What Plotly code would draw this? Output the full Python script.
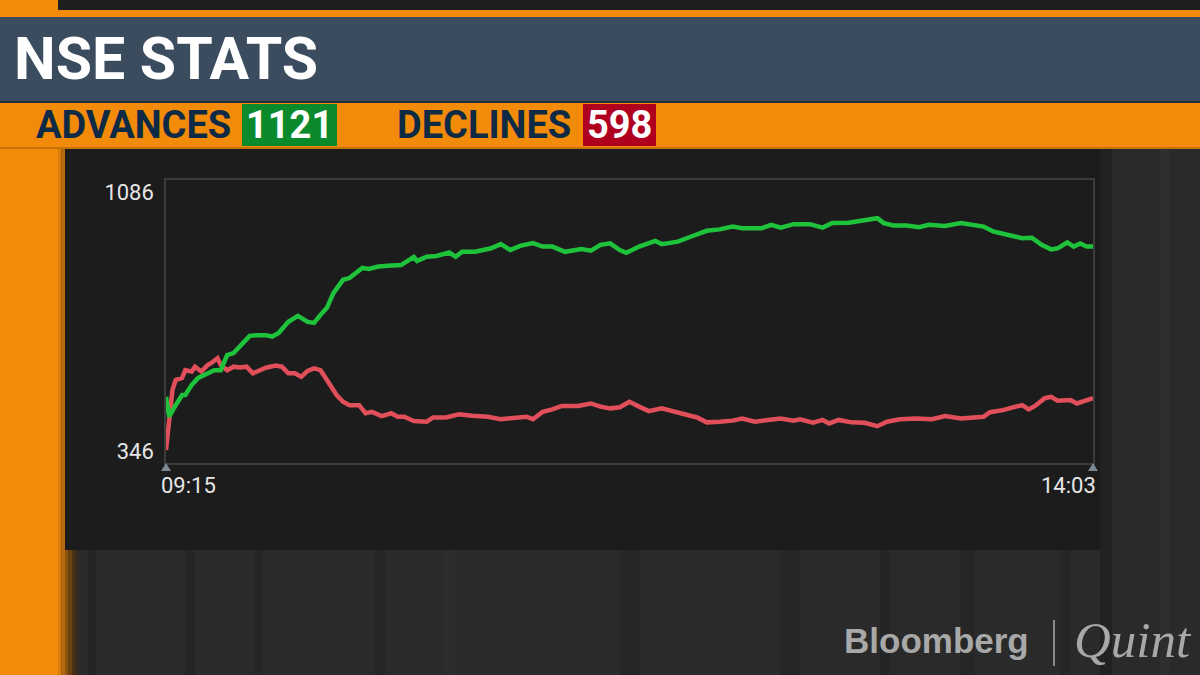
import plotly.graph_objects as go

# ---------------- data ----------------
title_text = "NSE STATS"
adv_label = "ADVANCES"
adv_count = "1121"
dec_label = "DECLINES"
dec_count = "598"

time_start = "09:15"
time_end = "14:03"
y_ticks = [346, 1086]

# minutes after 09:15
adv_t = [0, 1, 3, 5, 6, 8, 10, 13, 15, 17, 19, 21, 23, 26, 28, 31, 33, 35, 38, 41,
         44, 46, 48, 50, 52, 55, 57, 59, 61, 63, 66, 69, 73, 77, 78, 81, 84, 88, 90, 92,
         96, 101, 104, 107, 110, 114, 117, 120, 124, 129, 132, 135, 138, 141, 143, 147, 152, 154, 159, 163,
         168, 172, 176, 179, 185, 188, 191, 195, 200, 204, 207, 212, 217, 221, 223, 226, 230, 234, 237, 242,
         247, 251, 254, 257, 260, 263, 266, 269, 272, 275, 277, 280, 282, 284, 286, 288]
adv_v = [501, 444, 477, 506, 506, 535, 555, 569, 577, 577, 620, 626, 644, 675, 677, 677, 673, 683, 715, 732,
         715, 712, 735, 755, 797, 835, 840, 855, 869, 866, 873, 875, 877, 900, 889, 901, 903, 913, 901, 915,
         915, 925, 937, 920, 932, 940, 930, 930, 915, 923, 918, 935, 939, 920, 912, 930, 946, 937, 944, 958,
         975, 979, 987, 982, 982, 992, 984, 994, 994, 984, 997, 998, 1006, 1011, 997, 990, 990, 985, 992, 989,
         997, 992, 987, 973, 968, 960, 954, 955, 935, 922, 925, 942, 930, 939, 930, 930]

dec_t = [0, 1, 2, 3, 5, 6, 8, 9, 11, 13, 14, 16, 17, 19, 21, 23, 25, 27, 29, 31,
         34, 36, 38, 40, 42, 44, 46, 48, 50, 53, 55, 57, 60, 62, 64, 67, 70, 72, 74, 77,
         81, 83, 87, 91, 95, 100, 104, 108, 112, 114, 117, 120, 123, 128, 132, 135, 138, 141, 144, 147,
         150, 154, 158, 162, 165, 168, 172, 176, 179, 183, 187, 191, 195, 197, 201, 204, 206, 209, 213, 217,
         221, 224, 228, 233, 238, 242, 247, 251, 254, 256, 260, 264, 266, 268, 270, 273, 275, 277, 281, 283,
         286, 288]
dec_v = [349, 440, 520, 549, 555, 577, 573, 587, 573, 592, 597, 611, 592, 577, 587, 585, 587, 568, 577, 584,
         590, 587, 568, 568, 558, 575, 582, 577, 549, 506, 487, 477, 477, 454, 458, 446, 454, 444, 444, 432,
         430, 442, 442, 451, 447, 444, 437, 439, 444, 437, 458, 465, 475, 475, 482, 473, 468, 471, 487, 473,
         460, 468, 457, 449, 442, 428, 430, 433, 439, 430, 435, 439, 433, 437, 427, 435, 425, 435, 428, 427,
         417, 430, 437, 439, 437, 446, 439, 441, 444, 457, 463, 473, 477, 465, 475, 497, 501, 490, 492, 482,
         492, 497]

# ---------------- styling ----------------
W, H = 1200, 675
ORANGE = "#f28a0a"
SLATE = "#3a4c5e"
NAVY = "#0e2a45"
GREEN_BOX = "#0b8a2c"
RED_BOX = "#b0001f"
GREEN = "#1fc23b"
RED = "#e1505a"
TICK_FONT = dict(family="Roboto", size=22, color="#e6e6e6")


def px(x):
    return x / W


def py(y):
    return 1 - y / H


def rect(x0, y0, x1, y1, color, layer="below"):
    return dict(type="rect", xref="paper", yref="paper",
                x0=px(x0), x1=px(x1), y0=py(y1), y1=py(y0),
                fillcolor=color, line=dict(width=0), layer=layer)


shapes = []
# background stripes (blurred studio columns)
stripes = [(88, 96, "#242424"), (185, 195, "#252525"), (255, 262, "#262626"), (375, 385, "#262626"),
           (445, 455, "#2d2d2d"), (620, 640, "#262626"), (780, 800, "#262626"), (880, 890, "#252525"),
           (960, 975, "#262626"), (1060, 1070, "#262626"), (1100, 1112, "#222222"), (1160, 1170, "#2e2e2e")]
for a, b, c in stripes:
    shapes.append(rect(a, 0, b, H, c))
# left orange strip with soft edge
shapes.append(rect(0, 0, 58, H, ORANGE))
edge = ["#d97c0a", "#b86a0c", "#8f550f", "#6a4210", "#4a3314", "#352a1c"]
for i, c in enumerate(edge):
    shapes.append(rect(58 + i * 3.5, 0, 58 + (i + 1) * 3.5, H, c))
# chart panel
shapes.append(rect(65, 147, 1100, 550, "#1c1c1d"))
# header
shapes.append(rect(0, 0, W, 10, "#1e1e1e"))
shapes.append(rect(0, 0, 58, 10, ORANGE))
shapes.append(rect(0, 10, W, 17, ORANGE))
shapes.append(rect(0, 17, W, 101, SLATE))
shapes.append(rect(0, 101, W, 103, "#24303c"))
shapes.append(rect(0, 103, W, 147, ORANGE))
shapes.append(rect(0, 147, W, 149, "#c97208"))
shapes.append(rect(242, 104, 337, 146, GREEN_BOX, layer="above"))
shapes.append(rect(583, 104, 656, 146, RED_BOX, layer="above"))
# axis end markers
for xm in (166, 1093):
    shapes.append(dict(type="path", xref="paper", yref="paper", layer="above",
                       path=f"M {px(xm - 5)} {py(471)} L {px(xm + 5)} {py(471)} L {px(xm)} {py(463)} Z",
                       fillcolor="#7d8a96", line=dict(width=0)))
# logo divider
shapes.append(dict(type="line", xref="paper", yref="paper", x0=px(1054), x1=px(1054),
                   y0=py(620), y1=py(666), line=dict(color="#8a8a8a", width=2)))

fig = go.Figure()
fig.add_trace(go.Scatter(x=dec_t, y=dec_v, mode="lines", name="Declines",
                         line=dict(color=RED, width=4.5), hoverinfo="skip"))
fig.add_trace(go.Scatter(x=adv_t, y=adv_v, mode="lines", name="Advances",
                         line=dict(color=GREEN, width=4.5), hoverinfo="skip"))

annotations = [
    dict(text=f"<b>{title_text}</b>", x=px(12), y=py(58), xanchor="left", yanchor="middle",
         font=dict(family="Roboto", size=59, color="white")),
    dict(text=f"<b>{adv_label}</b>", x=px(34), y=py(125), xanchor="left", yanchor="middle",
         font=dict(family="Roboto", size=38, color=NAVY)),
    dict(text=f"<b>{adv_count}</b>", x=px(289.5), y=py(125), xanchor="center", yanchor="middle",
         font=dict(family="Roboto", size=38, color="white")),
    dict(text=f"<b>{dec_label}</b>", x=px(395), y=py(125), xanchor="left", yanchor="middle",
         font=dict(family="Roboto", size=38, color=NAVY)),
    dict(text=f"<b>{dec_count}</b>", x=px(619.5), y=py(125), xanchor="center", yanchor="middle",
         font=dict(family="Roboto", size=38, color="white")),
    dict(text=time_start, x=adv_t[0], xref="x", y=py(485), yref="paper", xanchor="left",
         yanchor="middle", xshift=-7, font=TICK_FONT),
    dict(text=time_end, x=adv_t[-1], xref="x", y=py(485), yref="paper", xanchor="right",
         yanchor="middle", xshift=5, font=TICK_FONT),
    dict(text="<b>Bloomberg</b>", x=px(1031), y=py(640), xanchor="right", yanchor="middle",
         font=dict(family="Liberation Sans", size=35, color="#a8a8a8")),
    dict(text="<i>Quint</i>", x=px(1072), y=py(640), xanchor="left", yanchor="middle",
         font=dict(family="Liberation Serif", size=51, color="#a8a8a8")),
]
for a in annotations:
    a["showarrow"] = False
    a.setdefault("xref", "paper")
    a.setdefault("yref", "paper")

fig.update_layout(
    width=W, height=H,
    margin=dict(l=0, r=0, t=0, b=0),
    paper_bgcolor="#2a2a2a",
    plot_bgcolor="#19191a",
    showlegend=False,
    shapes=shapes,
    annotations=annotations,
    xaxis=dict(domain=[px(166), px(1093)], range=[0, 288], showgrid=False, zeroline=False,
               showticklabels=False, ticks="", showline=True, mirror=True,
               linecolor="#3b3b3c", linewidth=1.5),
    yaxis=dict(domain=[py(463), py(180)], range=[312, 1120], showgrid=False, zeroline=False,
               tickvals=y_ticks, ticktext=[str(v) for v in y_ticks], ticks="",
               ticklabelstandoff=6, tickfont=TICK_FONT,
               showline=True, mirror=True, linecolor="#3b3b3c", linewidth=1.5),
)

fig.write_html("out.html", config={"displayModeBar": False},
               post_script="document.body.style.margin='0';document.body.style.overflow='hidden';")
